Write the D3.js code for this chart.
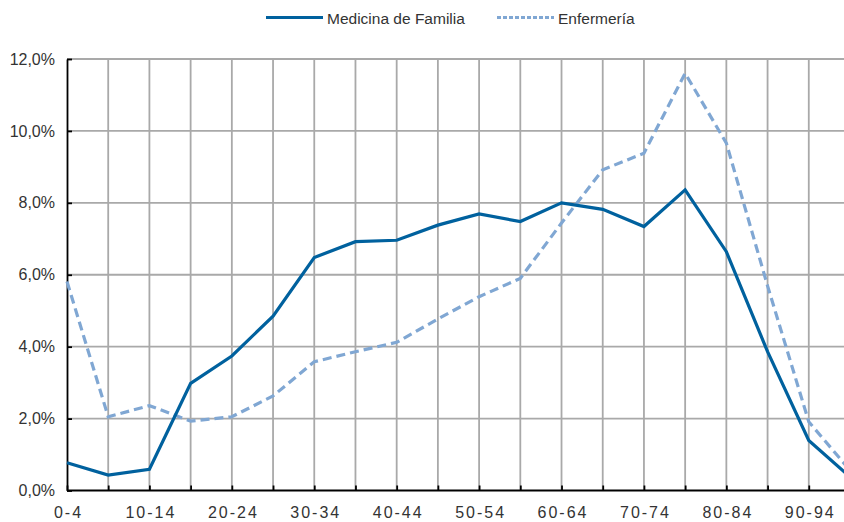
<!DOCTYPE html>
<html>
<head>
<meta charset="utf-8">
<script src="https://cdn.jsdelivr.net/npm/d3@7"></script>
<style>
  html, body { margin: 0; padding: 0; background: #fff; }
  svg { display: block; overflow: hidden; }
</style>
</head>
<body>
<svg id="chart" width="844" height="522"></svg>
<script>
const categories = ["0-4","5-9","10-14","15-19","20-24","25-29","30-34","35-39","40-44","45-49",
  "50-54","55-59","60-64","65-69","70-74","75-79","80-84","85-89","90-94","95-99"];
const medicinaFamilia = [0.77,0.43,0.59,2.98,3.74,4.85,6.48,6.92,6.96,7.38,
  7.69,7.48,8.00,7.82,7.34,8.36,6.64,3.86,1.39,0.38];
const enfermeria = [5.81,2.05,2.36,1.93,2.05,2.63,3.58,3.86,4.12,4.77,
  5.39,5.90,7.44,8.92,9.38,11.60,9.66,5.69,1.91,0.56];
const yTicks = [0,2,4,6,8,10,12];
const xLabels = ["0-4","10-14","20-24","30-34","40-44","50-54","60-64","70-74","80-84","90-94"];
const seriesNames = ["Medicina de Familia","Enfermería"];

(function () {
const svg = d3.select("#chart");
const W = 844;
const plotLeft = 67, plotTop = 59, plotBottom = 490.5;
const x = d3.scalePoint().domain(categories).range([plotLeft, plotLeft + 41.21 * (categories.length - 1)]);
const y = d3.scaleLinear().domain([0, 12]).range([plotBottom, plotTop]);

const gridColor = "#a9a9a9";
const textColor = "#333333";
const font = "'Liberation Sans', Arial, sans-serif";

// Horizontal gridlines
svg.append("g").selectAll("line").data(yTicks.filter(d => d > 0)).join("line")
  .attr("x1", plotLeft).attr("x2", W)
  .attr("y1", d => y(d)).attr("y2", d => y(d))
  .attr("stroke", gridColor).attr("stroke-width", 1.8);

// Vertical gridlines
svg.append("g").selectAll("line").data(categories.slice(1)).join("line")
  .attr("x1", d => x(d)).attr("x2", d => x(d))
  .attr("y1", plotTop).attr("y2", plotBottom)
  .attr("stroke", gridColor).attr("stroke-width", 1.8);

// Y axis
const yAxis = d3.axisLeft(y).tickValues(yTicks).tickSizeInner(-5).tickSizeOuter(0)
  .tickPadding(12).tickFormat(d => d3.format(".1f")(d).replace(".", ",") + "%");
const gy = svg.append("g").attr("transform", `translate(${plotLeft},0)`).call(yAxis);
gy.select(".domain").attr("stroke", "#000").attr("stroke-width", 1.8);
gy.selectAll(".tick line").attr("stroke", "#000").attr("stroke-width", 1.8);
gy.selectAll(".tick text").attr("font-family", font).attr("font-size", 16)
  .attr("fill", textColor).attr("x", -12);

// X axis
const xAxis = d3.axisBottom(x).tickSizeInner(-5).tickSizeOuter(0).tickPadding(12)
  .tickFormat(d => xLabels.includes(d) ? d : "");
const gx = svg.append("g").attr("transform", `translate(0,${plotBottom})`).call(xAxis);
gx.select(".domain").remove();
gx.append("line").attr("x1", plotLeft).attr("x2", W).attr("y1", 0).attr("y2", 0)
  .attr("stroke", "#000").attr("stroke-width", 1.8);
gx.selectAll(".tick line").attr("stroke", "#000").attr("stroke-width", 1.8);
gx.selectAll(".tick text").attr("font-family", font).attr("font-size", 16)
  .attr("fill", textColor).attr("letter-spacing", "2px").attr("dx", "1px")
  .attr("y", 16).attr("dy", "0.71em");

// Lines
const line = d3.line().x((d, i) => x(categories[i])).y(d => y(d));
svg.append("path").datum(enfermeria).attr("d", line)
  .attr("fill", "none").attr("stroke", "#80a7d3").attr("stroke-width", 3.2)
  .attr("stroke-dasharray", "9,5");
svg.append("path").datum(medicinaFamilia).attr("d", line)
  .attr("fill", "none").attr("stroke", "#00619e").attr("stroke-width", 3.2)
  .attr("stroke-linejoin", "miter");

// Legend
const lg = svg.append("g");
const legendItems = [
  {name: seriesNames[0], x1: 266, x2: 323, color: "#00619e", dash: null, tx: 327},
  {name: seriesNames[1], x1: 497, x2: 554, color: "#80a7d3", dash: "4,2", tx: 558}
];
legendItems.forEach(it => {
  lg.append("line").attr("x1", it.x1).attr("x2", it.x2).attr("y1", 17.5).attr("y2", 17.5)
    .attr("stroke", it.color).attr("stroke-width", 3)
    .attr("stroke-dasharray", it.dash);
  lg.append("text").attr("x", it.tx).attr("y", 23.5).text(it.name)
    .attr("font-family", font).attr("font-size", 15.5).attr("fill", textColor);
});
})();
</script>
</body>
</html>
